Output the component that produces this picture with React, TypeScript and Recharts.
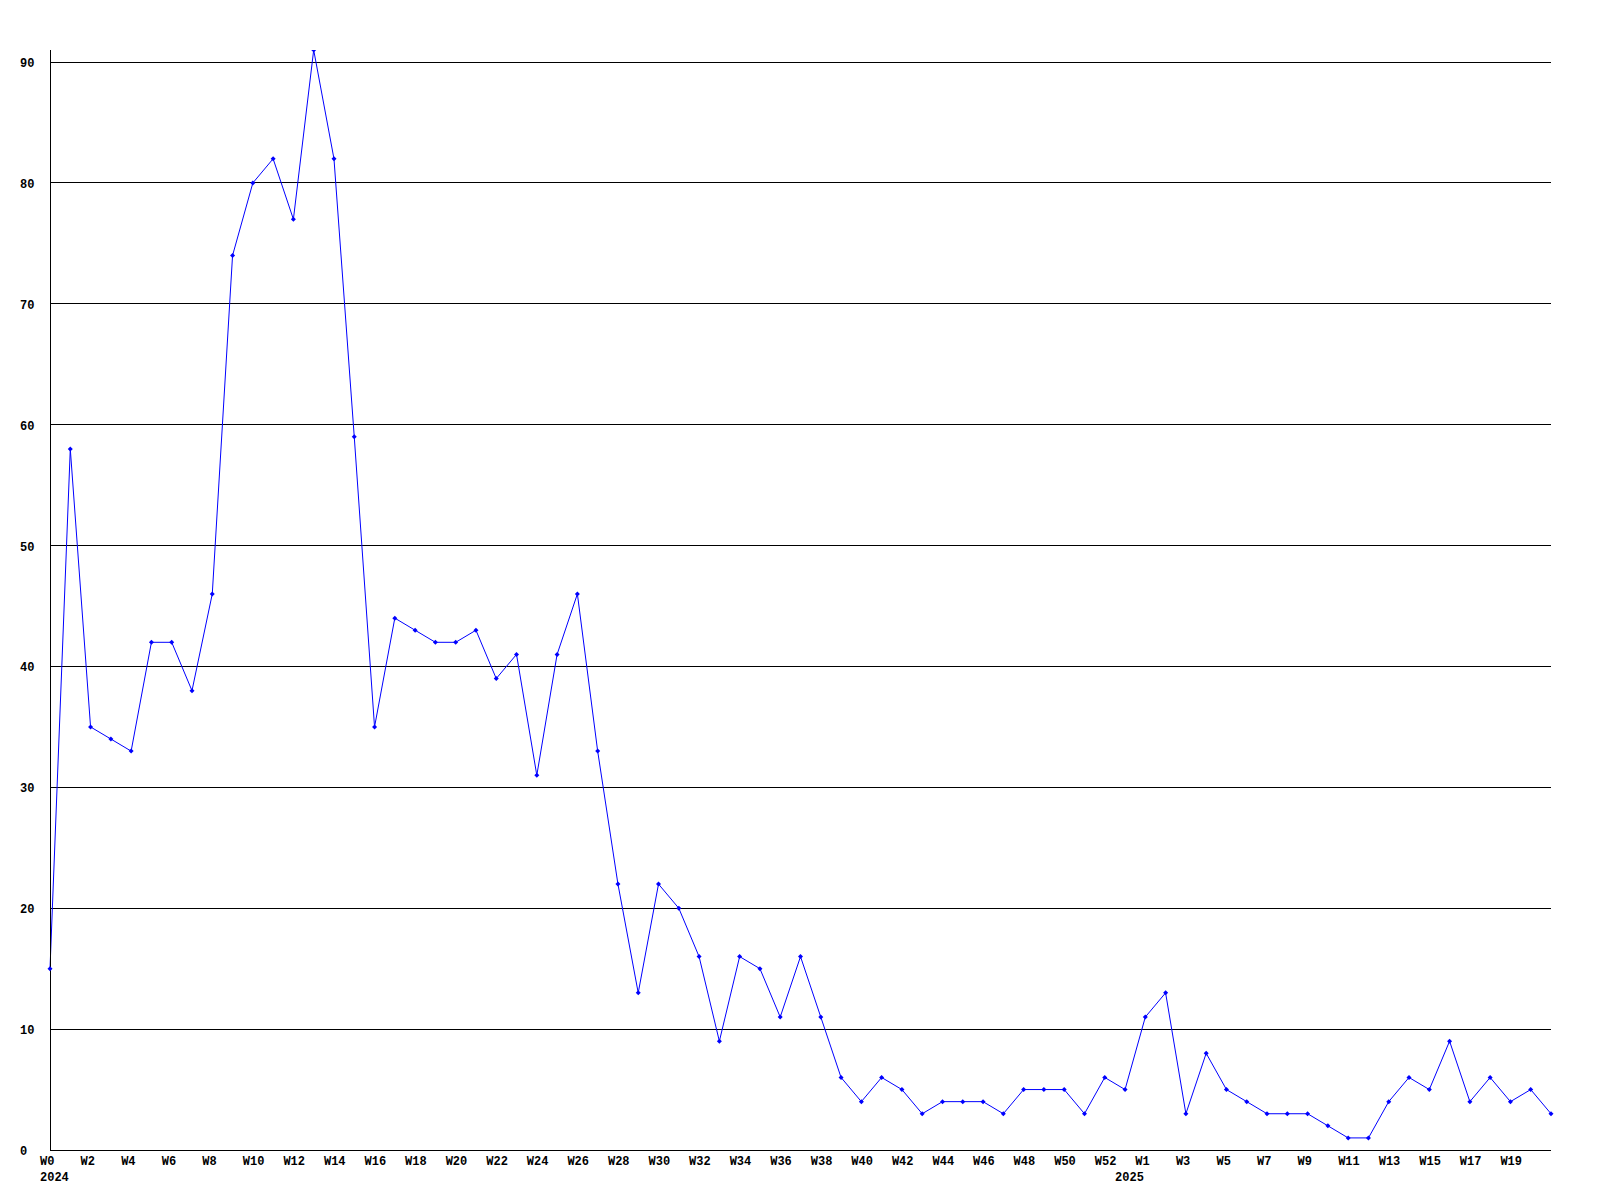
import { LineChart, Line, XAxis, YAxis, CartesianGrid } from "recharts";

// weekly counts, W0 2024 .. W21 2025
const weeks = [
  "W0", "W1", "W2", "W3", "W4", "W5", "W6", "W7", "W8", "W9",
  "W10", "W11", "W12", "W13", "W14", "W15", "W16", "W17", "W18", "W19",
  "W20", "W21", "W22", "W23", "W24", "W25", "W26", "W27", "W28", "W29",
  "W30", "W31", "W32", "W33", "W34", "W35", "W36", "W37", "W38", "W39",
  "W40", "W41", "W42", "W43", "W44", "W45", "W46", "W47", "W48", "W49",
  "W50", "W51", "W52",
  "W0", "W1", "W2", "W3", "W4", "W5", "W6", "W7", "W8", "W9",
  "W10", "W11", "W12", "W13", "W14", "W15", "W16", "W17", "W18", "W19",
  "W20", "W21",
];

// year label shown under the first week of each year (by index)
const yearStarts: Record<number, string> = { 0: "2024", 53: "2025" };

const counts = [
  15, 58, 35, 34, 33, 42, 42, 38, 46, 74,
  80, 82, 77, 91, 82, 59, 35, 44, 43, 42,
  42, 43, 39, 41, 31, 41, 46, 33, 22, 13,
  22, 20, 16, 9, 16, 15, 11, 16, 11, 6,
  4, 6, 5, 3, 4, 4, 4, 3, 5, 5,
  5, 3, 6,
  5, 11, 13, 3, 8, 5, 4, 3, 3, 3,
  2, 1, 1, 4, 6, 5, 9, 4, 6, 4,
  5, 3,
];

const yTicks = [0, 10, 20, 30, 40, 50, 60, 70, 80, 90];

const data = counts.map((c, i) => ({ i, week: weeks[i], count: c }));

const FONT = "'Liberation Mono', 'DejaVu Sans Mono', monospace";

const XTick = (props: any) => {
  const { x, y, payload } = props;
  const idx = payload.value as number;
  const year = yearStarts[idx];
  // every second week, last one left off (no room at the edge)
  const showWeek = idx % 2 === 0 && idx < counts.length - 1;
  return (
    <g>
      {showWeek && (
        <text x={x - 10} y={y + 9} textAnchor="start" fontFamily={FONT} fontWeight="bold" fontSize={12} fill="#000">
          {weeks[idx]}
        </text>
      )}
      {year && (
        <text x={x - 10} y={y + 25} textAnchor="start" fontFamily={FONT} fontWeight="bold" fontSize={12} fill="#000">
          {year}
        </text>
      )}
    </g>
  );
};

const YTick = (props: any) => {
  const { y, payload } = props;
  return (
    <text x={20} y={y + 5} textAnchor="start" fontFamily={FONT} fontWeight="bold" fontSize={12} fill="#000">
      {payload.value}
    </text>
  );
};

const Dot = (props: any) => {
  const { cx, cy } = props;
  if (cx == null || cy == null) return null;
  return (
    <path
      d={`M${cx - 2.5},${cy} L${cx},${cy - 2.5} L${cx + 2.5},${cy} L${cx},${cy + 2.5} Z`}
      fill="#0000ff"
      stroke="none"
    />
  );
};

const App = () => {
  return (
    <div style={{ position: "absolute", left: 0, top: 0, background: "#fff" }}>
      <LineChart
        width={1600}
        height={1200}
        data={data}
        margin={{ top: 50, right: 49, left: 0, bottom: 0 }}
      >
        <CartesianGrid
          vertical={false}
          horizontalValues={yTicks}
          stroke="#000"
          strokeWidth={1}
          shapeRendering="crispEdges"
        />
        <XAxis
          dataKey="i"
          type="number"
          domain={[0, counts.length - 1]}
          ticks={data.map((d) => d.i)}
          interval={0}
          height={50}
          tickLine={false}
          axisLine={{ stroke: "#000", strokeWidth: 1, shapeRendering: "crispEdges" }}
          tick={<XTick />}
          tickMargin={0}
        />
        <YAxis
          domain={[0, 91]}
          ticks={yTicks}
          width={50}
          tickLine={false}
          axisLine={{ stroke: "#000", strokeWidth: 1, shapeRendering: "crispEdges" }}
          tick={<YTick />}
          allowDataOverflow
        />
        <Line
          type="linear"
          dataKey="count"
          stroke="#0000ff"
          strokeWidth={1}
          dot={<Dot />}
          activeDot={false}
          isAnimationActive={false}
        />
      </LineChart>
    </div>
  );
};

export default App;
